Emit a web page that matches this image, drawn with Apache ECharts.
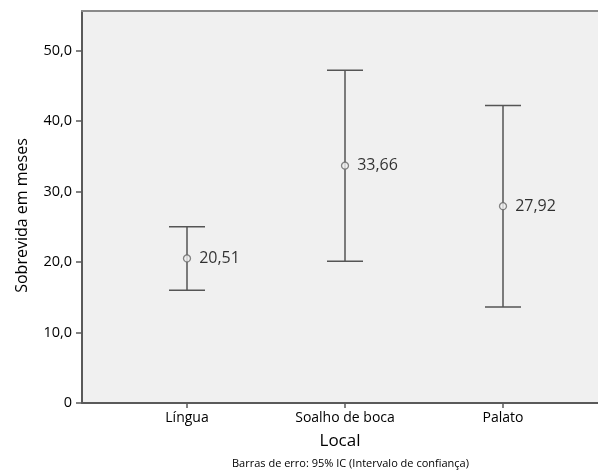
<!DOCTYPE html>
<html>
<head>
<meta charset="utf-8">
<script src="https://cdn.jsdelivr.net/npm/echarts@6/dist/echarts.min.js"></script>
<style>html,body{margin:0;padding:0;background:#fff}#c{width:598px;height:472px}</style>
</head>
<body>
<div id="c"></div>
<script>
const categories = ['Língua', 'Soalho de boca', 'Palato'];
const means = [20.51, 33.66, 27.92];
const lower = [16.0, 20.1, 13.6];
const upper = [25.0, 47.2, 42.2];
const yTicks = [0, 10, 20, 30, 40, 50];
const footnote = 'Barras de erro: 95% IC (Intervalo de confiança)';

const FONT = '"Open Sans", sans-serif';
const positions = categories.map((c, i) => i + 1);
const xMin = 1 - 105 / 158, xMax = 1 + 411 / 158;

const chart = echarts.init(document.getElementById('c'), null, {renderer: 'canvas'});
chart.setOption({
  animation: false,
  backgroundColor: '#ffffff',
  textStyle: {fontFamily: FONT},
  grid: {left: 82, top: 11, right: 0, bottom: 69, show: true, backgroundColor: '#f0f0f0', borderWidth: 0},
  graphic: [{
    type: 'text', left: 232, top: 458,
    style: {text: footnote, fontSize: 11, fontFamily: FONT, fill: '#000'}
  }],
  xAxis: [{
    type: 'value', min: xMin, max: xMax,
    splitLine: {show: false},
    axisLine: {show: true, lineStyle: {color: '#5a5a5a', width: 2}},
    axisTick: {show: true, customValues: positions, length: 5, lineStyle: {color: '#5a5a5a', width: 1.5}},
    axisLabel: {show: true, customValues: positions, margin: 8, fontSize: 14, color: '#000', fontFamily: FONT,
      formatter: v => categories[Math.round(v) - 1] || ''},
    name: 'Local', nameLocation: 'middle', nameGap: 30,
    nameTextStyle: {fontSize: 17, color: '#000', fontFamily: FONT}
  }, {
    type: 'value', position: 'top', min: xMin, max: xMax,
    splitLine: {show: false},
    axisLine: {show: true, lineStyle: {color: '#8a8a8a', width: 2}},
    axisTick: {show: false}, axisLabel: {show: false}
  }],
  yAxis: {
    type: 'value', min: 0, max: 55.6, interval: 10,
    splitLine: {show: false},
    axisLine: {show: true, lineStyle: {color: '#5a5a5a', width: 2}},
    axisTick: {show: true, customValues: yTicks, length: 6, lineStyle: {color: '#5a5a5a', width: 1.5}},
    axisLabel: {customValues: yTicks, margin: 10, fontSize: 14.5, color: '#000', fontFamily: FONT,
      formatter: v => v === 0 ? '0' : v.toFixed(1).replace('.', ',')},
    name: 'Sobrevida em meses', nameLocation: 'middle', nameRotate: 90, nameGap: 52,
    nameTextStyle: {fontSize: 16, color: '#000', fontFamily: FONT, padding: [0, 17, 0, 0]}
  },
  series: [{
    type: 'custom',
    data: positions.map((p, i) => [p, lower[i], upper[i]]),
    renderItem: function (params, api) {
      const x = api.value(0);
      const lo = api.coord([x, api.value(1)]);
      const hi = api.coord([x, api.value(2)]);
      const hw = 18;
      const st = {stroke: '#555555', lineWidth: 1.5};
      return {type: 'group', children: [
        {type: 'line', shape: {x1: lo[0], y1: lo[1], x2: hi[0], y2: hi[1]}, style: st},
        {type: 'line', shape: {x1: lo[0] - hw, y1: lo[1], x2: lo[0] + hw, y2: lo[1]}, style: st},
        {type: 'line', shape: {x1: hi[0] - hw, y1: hi[1], x2: hi[0] + hw, y2: hi[1]}, style: st}
      ]};
    },
    z: 2
  }, {
    type: 'scatter',
    data: positions.map((p, i) => [p, means[i]]),
    symbol: 'circle', symbolSize: 7,
    itemStyle: {color: '#f0f0f0', borderColor: '#666666', borderWidth: 1.3},
    label: {show: true, position: 'right', distance: 8, fontSize: 16, color: '#000', fontFamily: FONT,
      formatter: p => p.value[1].toFixed(2).replace('.', ',')},
    z: 3
  }]
});
</script>
</body>
</html>
